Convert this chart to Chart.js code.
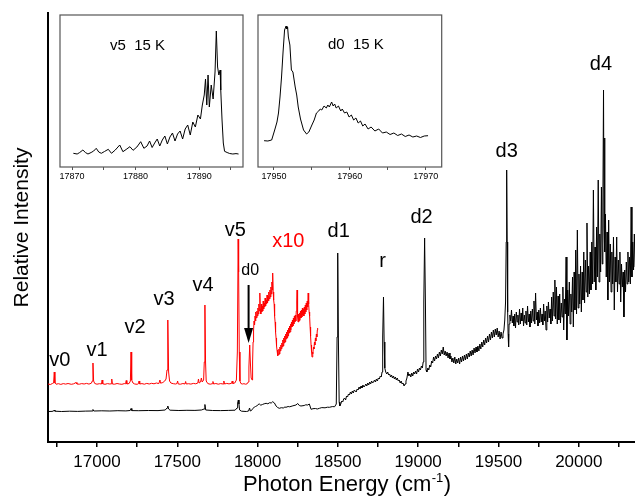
<!DOCTYPE html>
<html lang="en">
<head>
    <meta charset="UTF-8">
    <title>Photon Energy Spectrum</title>
    <style>
        body {
            margin: 0;
            background: #fff;
        }

        .wrap {
            position: relative;
            width: 635px;
            height: 502px;
        }

        .wrap canvas {
            position: absolute;
        }

        #mainChart { left: 0; top: 0; }
        #insetV5 { left: 50px; top: 5px; }
        #insetD0 { left: 248px; top: 5px; }
    </style>
</head>
<body>
    <div class="wrap">
        <canvas id="mainChart" width="635" height="502"></canvas>
        <canvas id="insetV5" width="205" height="185"></canvas>
        <canvas id="insetD0" width="205" height="185"></canvas>
    </div>

    <script src="https://cdn.jsdelivr.net/npm/chart.js"></script>
    <script>
        const fontFamily = '"Liberation Sans", Arial, sans-serif';
        Chart.defaults.font.family = fontFamily;
        Chart.defaults.color = '#000';

        // main spectrum, [photon energy (cm-1), relative intensity]
        const blackTrace = [
            [16695, 30.5], [16720, 30.6], [16730, 31], [16734, 32], [16738, 30.8], [16780, 30.5], [16830, 30.8],
            [16880, 30.6], [16930, 30.9], [16970, 31], [16975, 32.5], [16980, 31], [17030, 31.2], [17080, 31],
            [17130, 31.3], [17180, 31.1], [17207, 31.5], [17212, 33.5], [17217, 31.4], [17260, 31.3], [17320, 31.5],
            [17380, 31.4], [17425, 32], [17436, 34], [17441, 36], [17446, 33], [17455, 31.8], [17510, 31.5],
            [17560, 31.7], [17610, 31.6], [17650, 32], [17667, 33], [17672, 37.5], [17677, 32], [17720, 31.5],
            [17770, 31.4], [17820, 31.6], [17860, 31.8], [17872, 34], [17876, 39], [17880, 42], [17884, 38],
            [17888, 32], [17900, 30.8], [17930, 30.5], [17944, 31], [17950, 34], [17955, 31], [17962, 31.5],
            [17970, 33.5], [17979, 34.7], [17987, 35.5], [17995, 36], [18003, 37.5], [18011, 38], [18020, 36.8],
            [18030, 37.5], [18041, 38.2], [18053, 38.7], [18064, 38.2], [18075, 39.3], [18085, 39], [18094, 40.3],
            [18105, 39], [18115, 36], [18125, 34.5], [18135, 33.7], [18148, 34.3], [18160, 34], [18170, 35],
            [18177, 34.7], [18190, 35.5], [18200, 35.2], [18220, 36.2], [18239, 37], [18250, 38.5], [18260, 36.5],
            [18270, 36], [18290, 36.5], [18300, 37.2], [18312, 37], [18322, 38], [18333, 32.7], [18345, 33.3],
            [18360, 33.5], [18372, 33], [18385, 33.7], [18400, 34.4], [18420, 34.2], [18435, 34.8], [18447, 34.7],
            [18465, 35.4], [18480, 35.3], [18490, 38], [18495, 105], [18499, 189], [18503, 105], [18508, 40],
            [18512, 36], [18518, 38], [18524, 41], [18530, 40], [18536, 43], [18542, 44], [18548, 42], [18554, 46],
            [18560, 45], [18566, 48], [18572, 47], [18578, 50], [18584, 48], [18590, 51], [18596, 49], [18602, 52],
            [18608, 51], [18614, 50], [18620, 53], [18626, 52], [18632, 55], [18638, 53], [18644, 56], [18650, 54],
            [18656, 57], [18662, 55], [18668, 56], [18674, 58], [18680, 56], [18686, 59], [18692, 57], [18698, 60],
            [18704, 58], [18710, 61], [18716, 59], [18722, 60], [18728, 62], [18734, 60], [18740, 63], [18746, 61],
            [18752, 64], [18758, 63], [18764, 66], [18770, 65], [18775, 70], [18779, 105], [18784, 145], [18788, 100],
            [18792, 74], [18798, 70], [18804, 68], [18810, 70], [18816, 67], [18822, 68], [18828, 65], [18834, 67],
            [18840, 64], [18846, 66], [18852, 63], [18858, 65], [18864, 62], [18870, 64], [18876, 61], [18882, 62],
            [18888, 59], [18894, 61], [18900, 58], [18906, 59], [18912, 56], [18918, 58], [18924, 61], [18930, 64],
            [18936, 70], [18942, 66], [18948, 68], [18954, 65], [18960, 69], [18966, 66], [18972, 70], [18978, 68],
            [18984, 71], [18990, 68], [18996, 73], [19002, 70], [19008, 74], [19014, 72], [19020, 76], [19026, 74],
            [19031, 80], [19035, 140], [19040, 204], [19045, 140], [19049, 72], [19054, 70], [19060, 74], [19066, 72],
            [19072, 77], [19078, 75], [19084, 81], [19090, 79], [19096, 85], [19102, 81], [19108, 86], [19114, 83],
            [19120, 88], [19126, 84], [19132, 90], [19138, 86], [19144, 92], [19150, 88], [19156, 95], [19162, 87],
            [19168, 91], [19174, 86], [19180, 90], [19186, 84], [19192, 89], [19198, 83], [19204, 86], [19210, 80],
            [19216, 84], [19222, 79], [19228, 85], [19234, 78], [19240, 83], [19246, 79], [19252, 84], [19258, 78],
            [19264, 85], [19270, 80], [19276, 86], [19282, 81], [19288, 87], [19294, 82], [19300, 88], [19306, 83],
            [19312, 89], [19318, 85], [19324, 91], [19330, 86], [19336, 92], [19342, 87], [19348, 94], [19354, 89],
            [19360, 95], [19366, 90], [19372, 96], [19378, 91], [19384, 98], [19390, 93], [19396, 100], [19402, 95],
            [19408, 102], [19414, 97], [19420, 104], [19426, 99], [19432, 106], [19438, 100], [19444, 108],
            [19450, 102], [19456, 110], [19462, 104], [19468, 112], [19474, 105], [19480, 113], [19486, 107],
            [19492, 114], [19498, 105], [19504, 111], [19510, 103], [19516, 110], [19522, 104], [19528, 108],
            [19534, 112], [19539, 122], [19544, 140], [19548, 200], [19551, 272], [19554, 200], [19557, 130],
            [19560, 108], [19563, 95], [19566, 118], [19571, 127], [19576, 121], [19581, 132], [19586, 119],
            [19591, 126], [19596, 116], [19601, 128], [19606, 114], [19611, 130], [19616, 120], [19621, 127],
            [19626, 117], [19631, 133], [19636, 118], [19641, 129], [19646, 121], [19651, 134], [19656, 116],
            [19661, 127], [19666, 119], [19671, 131], [19676, 117], [19681, 136], [19686, 120], [19691, 128],
            [19696, 115], [19701, 131], [19706, 119], [19711, 133], [19716, 121], [19721, 141], [19726, 118],
            [19731, 149], [19736, 122], [19741, 130], [19746, 116], [19751, 132], [19756, 119], [19761, 134],
            [19766, 120], [19771, 128], [19776, 117], [19781, 138], [19786, 121], [19791, 131], [19796, 112],
            [19801, 136], [19806, 120], [19811, 140], [19816, 124], [19821, 133], [19826, 118], [19831, 145],
            [19836, 121], [19841, 150], [19846, 126], [19851, 162], [19856, 123], [19861, 155], [19866, 118],
            [19871, 146], [19876, 122], [19881, 148], [19886, 119], [19891, 139], [19896, 125], [19901, 155],
            [19906, 112], [19911, 143], [19916, 128], [19921, 185], [19926, 102], [19931, 152], [19936, 126],
            [19941, 160], [19946, 118], [19951, 148], [19956, 130], [19961, 165], [19966, 115], [19971, 170],
            [19976, 132], [19981, 192], [19986, 128], [19991, 212], [19996, 134], [20001, 168], [20006, 138],
            [20011, 176], [20016, 130], [20021, 170], [20026, 142], [20031, 190], [20036, 139], [20041, 182],
            [20046, 150], [20051, 219], [20056, 145], [20061, 176], [20066, 148], [20071, 190], [20076, 152],
            [20081, 200], [20086, 158], [20091, 252], [20096, 160], [20101, 195], [20106, 152], [20111, 215],
            [20116, 165], [20121, 262], [20126, 160], [20131, 208], [20136, 170], [20141, 255], [20146, 178],
            [20150, 240], [20154, 352], [20157, 215], [20160, 304], [20163, 190], [20166, 228], [20171, 165],
            [20176, 210], [20181, 142], [20186, 222], [20191, 160], [20196, 198], [20201, 150], [20206, 190],
            [20211, 158], [20216, 205], [20221, 132], [20226, 185], [20231, 160], [20236, 205], [20241, 150],
            [20246, 182], [20251, 158], [20256, 190], [20261, 140], [20266, 178], [20271, 155], [20276, 170],
            [20281, 125], [20286, 172], [20291, 150], [20296, 180], [20301, 158], [20306, 190], [20311, 160],
            [20316, 185], [20321, 158], [20326, 235], [20331, 165], [20336, 200], [20341, 172], [20346, 208],
            [20351, 175], [20355, 190]
        ];

        // same spectrum x10, shifted up
        const redTrace = [
            [16695, 58], [16710, 57.5], [16722, 58.5], [16730, 59], [16734, 70], [16738, 59], [16745, 57.8],
            [16760, 58.3], [16775, 57.6], [16790, 58.4], [16805, 57.9], [16820, 58.5], [16840, 57.7], [16855, 58.2],
            [16870, 59.5], [16875, 58], [16890, 57.8], [16905, 58.4], [16920, 58], [16935, 58.6], [16950, 57.9],
            [16965, 58.8], [16971, 61], [16975, 79], [16979, 61], [16986, 58.5], [17000, 57.8], [17015, 58.3],
            [17028, 58], [17032, 62], [17036, 58.2], [17050, 57.7], [17065, 58.4], [17080, 58], [17088, 58.2],
            [17092, 63], [17096, 58], [17110, 57.8], [17125, 58.5], [17140, 58], [17155, 57.7], [17170, 58.4],
            [17178, 58.2], [17182, 61.5], [17186, 58], [17200, 58.5], [17208, 61], [17212, 90], [17216, 62],
            [17224, 59], [17235, 58], [17250, 57.7], [17258, 58.3], [17262, 61], [17266, 58], [17280, 58.4],
            [17295, 57.8], [17310, 58.6], [17325, 58], [17340, 58.7], [17355, 58.2], [17370, 59], [17385, 58.4],
            [17392, 62], [17396, 58.8], [17410, 59.5], [17422, 61], [17430, 63], [17436, 72], [17441, 122],
            [17446, 70], [17452, 61], [17460, 59], [17475, 58.3], [17490, 58], [17498, 58.5], [17502, 61],
            [17506, 58], [17520, 57.8], [17535, 58.5], [17548, 58], [17552, 60.5], [17556, 58], [17570, 58.3],
            [17585, 57.9], [17600, 58.6], [17615, 58.2], [17628, 59], [17632, 63], [17636, 59], [17645, 60],
            [17650, 64], [17655, 60], [17664, 62], [17668, 80], [17672, 137], [17676, 80], [17680, 61], [17690, 58.4],
            [17705, 57.8], [17718, 58.3], [17722, 60.5], [17726, 58], [17740, 58.5], [17755, 57.8], [17770, 58.4],
            [17786, 58], [17790, 61], [17794, 58], [17808, 58.6], [17822, 58.1], [17838, 58.7], [17842, 61],
            [17846, 58.5], [17858, 59], [17868, 62], [17874, 90], [17879, 203], [17882, 170], [17886, 90],
            [17890, 61], [17896, 58.5], [17905, 58], [17915, 58.3], [17925, 57.8], [17935, 58.2], [17942, 60],
            [17946, 75], [17951, 97], [17955, 80], [17960, 64], [17966, 62], [17969, 80], [17972, 100], [17975, 112],
            [17978, 121], [17981, 117], [17984, 126], [17987, 121], [17990, 130], [17993, 124], [17996, 131],
            [17999, 126], [18002, 134], [18005, 128], [18008, 138], [18011, 131], [18014, 149], [18017, 133],
            [18020, 128], [18023, 138], [18026, 130], [18029, 136], [18032, 131], [18035, 141], [18038, 133],
            [18041, 139], [18044, 135], [18047, 144], [18050, 136], [18053, 142], [18056, 138], [18059, 147],
            [18062, 139], [18065, 146], [18068, 141], [18071, 150], [18074, 143], [18077, 152], [18080, 145],
            [18083, 155], [18086, 148], [18089, 160], [18092, 152], [18094, 169], [18097, 150], [18100, 142],
            [18103, 138], [18106, 126], [18109, 120], [18112, 110], [18115, 104], [18118, 96], [18121, 92],
            [18124, 86], [18127, 90], [18130, 87], [18133, 93], [18136, 88], [18139, 95], [18142, 91], [18145, 97],
            [18148, 93], [18151, 99], [18154, 95], [18157, 102], [18160, 96], [18163, 104], [18166, 99], [18169, 106],
            [18172, 100], [18175, 108], [18178, 103], [18181, 110], [18184, 104], [18187, 112], [18190, 106],
            [18193, 114], [18196, 109], [18199, 116], [18202, 110], [18205, 118], [18208, 112], [18211, 120],
            [18214, 115], [18217, 122], [18220, 116], [18223, 124], [18226, 118], [18229, 126], [18232, 120],
            [18235, 127], [18238, 121], [18241, 131], [18244, 140], [18246, 152], [18249, 125], [18252, 120],
            [18255, 128], [18258, 121], [18261, 129], [18264, 122], [18267, 131], [18270, 124], [18273, 132],
            [18276, 125], [18279, 134], [18282, 127], [18285, 133], [18288, 126], [18291, 135], [18294, 128],
            [18297, 137], [18300, 130], [18303, 139], [18306, 132], [18309, 141], [18312, 135], [18315, 149],
            [18318, 138], [18321, 130], [18324, 126], [18327, 115], [18330, 106], [18333, 97], [18336, 90],
            [18339, 85], [18342, 90], [18345, 88], [18348, 95], [18351, 93], [18354, 100], [18357, 97], [18360, 104],
            [18363, 101], [18366, 108], [18369, 105], [18372, 112], [18374, 114]
        ];

        // inset: v5 band at 15 K
        const v5Trace = [
            [17870.2, 13.7], [17870.8, 13], [17871.2, 14.5], [17871.7, 17], [17872.1, 14.5], [17872.5, 13],
            [17873.0, 14.5], [17873.4, 16], [17873.8, 18.7], [17874.2, 15], [17874.6, 13.7], [17875.1, 15.5],
            [17875.7, 17.7], [17876.2, 13.7], [17876.8, 17], [17877.5, 22], [17878.0, 15.3], [17878.5, 17.5],
            [17879.1, 20.3], [17879.6, 16.7], [17880.2, 20], [17880.8, 25.3], [17881.3, 18.7], [17881.8, 21],
            [17882.2, 26], [17882.6, 19.5], [17883.0, 24], [17883.4, 28], [17883.8, 21], [17884.2, 27],
            [17884.6, 31], [17885.0, 23], [17885.4, 30], [17885.8, 34], [17886.2, 26], [17886.6, 33], [17887.0, 36],
            [17887.4, 28], [17887.8, 38], [17888.2, 42], [17888.6, 32], [17889.0, 45], [17889.4, 40], [17889.8, 52],
            [17890.2, 48], [17890.5, 62], [17890.8, 72], [17891.0, 88], [17891.2, 62], [17891.4, 92], [17891.6, 60],
            [17891.9, 82], [17892.2, 68], [17892.5, 95], [17892.7, 136], [17892.9, 100], [17893.1, 92],
            [17893.3, 97], [17893.4, 77], [17893.6, 47], [17893.8, 24], [17894.0, 15.7], [17894.4, 14.5],
            [17894.8, 13.5], [17895.3, 13], [17895.8, 13.4], [17896.2, 13]
        ];

        // inset: d0 band at 15 K
        const d0Trace = [
            [17948.7, 26.3], [17949.2, 26], [17949.7, 27], [17950.1, 37], [17950.4, 45], [17950.6, 54],
            [17950.8, 70], [17951.0, 90], [17951.2, 115], [17951.4, 137], [17951.6, 141], [17951.7, 138],
            [17951.8, 140], [17951.9, 130], [17952.1, 122], [17952.3, 97], [17952.5, 95], [17952.8, 80],
            [17953.0, 72], [17953.2, 60], [17953.5, 48], [17953.9, 37], [17954.3, 33], [17954.6, 35], [17955.0, 42],
            [17955.3, 47], [17955.6, 54], [17955.9, 56], [17956.1, 58], [17956.3, 57], [17956.6, 61], [17956.9, 59],
            [17957.1, 62], [17957.3, 60], [17957.6, 65], [17957.8, 61], [17958.0, 63], [17958.2, 59], [17958.5, 61],
            [17958.8, 56], [17959.0, 58], [17959.3, 54], [17959.6, 55], [17959.9, 50], [17960.2, 52], [17960.5, 47],
            [17960.8, 49], [17961.1, 44], [17961.4, 46], [17961.7, 41], [17962.0, 43], [17962.4, 38], [17962.8, 40],
            [17963.3, 36], [17963.8, 38], [17964.3, 34], [17964.8, 35], [17965.3, 32.5], [17965.8, 34],
            [17966.3, 31.5], [17966.8, 33], [17967.3, 30.5], [17967.8, 32], [17968.3, 30], [17968.8, 31],
            [17969.3, 29.5], [17969.8, 31], [17970.3, 31.3]
        ];

        // peak names and where they sit (energy, intensity)
        const peakNames = ['v0', 'v1', 'v2', 'v3', 'v4', 'v5', 'd1', 'r', 'd2', 'd3', 'd4'];
        const peakNameE = [16769, 17000, 17237, 17418, 17661, 17861, 18505, 18778, 19021, 19551, 20138];
        const peakNameI = [82, 92, 115, 143, 157, 212, 211, 181, 225, 291, 378];
        const scaleNote = { text: 'x10', e: 18191, i: 201 };
        const d0Note = { text: 'd0', e: 17954, i: 171, arrowE: 17944, arrowFrom: 157, arrowTo: 99 };

        const toPoints = arr => arr.map(([x, y]) => ({ x, y }));

        const mainLabels = {
            id: 'mainLabels',
            afterDatasetsDraw(chart) {
                const { ctx, scales: { x, y } } = chart;
                ctx.save();
                ctx.textAlign = 'center';
                ctx.textBaseline = 'middle';
                ctx.fillStyle = '#000';
                ctx.font = '20px ' + fontFamily;
                peakNames.forEach((t, i) => {
                    ctx.fillText(t, x.getPixelForValue(peakNameE[i]), y.getPixelForValue(peakNameI[i]));
                });

                ctx.fillStyle = '#ff0000';
                ctx.fillText(scaleNote.text, x.getPixelForValue(scaleNote.e), y.getPixelForValue(scaleNote.i));

                // d0 with arrow
                ctx.fillStyle = '#000';
                ctx.font = '16px ' + fontFamily;
                ctx.fillText(d0Note.text, x.getPixelForValue(d0Note.e), y.getPixelForValue(d0Note.i));
                const ax = x.getPixelForValue(d0Note.arrowE);
                const y1 = y.getPixelForValue(d0Note.arrowFrom);
                const y2 = y.getPixelForValue(d0Note.arrowTo);
                ctx.strokeStyle = '#000';
                ctx.lineWidth = 2;
                ctx.beginPath();
                ctx.moveTo(ax, y1);
                ctx.lineTo(ax, y2 - 12);
                ctx.stroke();
                ctx.beginPath();
                ctx.moveTo(ax - 4.5, y2 - 15);
                ctx.lineTo(ax + 4.5, y2 - 15);
                ctx.lineTo(ax, y2);
                ctx.closePath();
                ctx.fill();
                ctx.restore();
            },
            afterDraw(chart) {
                // x title with a real superscript
                const { ctx, chartArea } = chart;
                const big = '22px ' + fontFamily;
                const small = '13px ' + fontFamily;
                const part1 = 'Photon Energy (cm', sup = '-1', part2 = ')';
                ctx.save();
                ctx.fillStyle = '#000';
                ctx.textBaseline = 'alphabetic';
                ctx.textAlign = 'left';
                ctx.font = big;
                const w1 = ctx.measureText(part1).width;
                const w3 = ctx.measureText(part2).width;
                ctx.font = small;
                const w2 = ctx.measureText(sup).width;
                let tx = (chartArea.left + chartArea.right) / 2 + 5 - (w1 + w2 + w3) / 2;
                const ty = chart.height - 11;
                ctx.font = big;
                ctx.fillText(part1, tx, ty);
                tx += w1 + 0.5;
                ctx.font = small;
                ctx.fillText(sup, tx, ty - 9);
                tx += w2 + 0.5;
                ctx.font = big;
                ctx.fillText(part2, tx, ty);
                ctx.restore();
            }
        };

        new Chart(document.getElementById('mainChart'), {
            type: 'line',
            data: {
                datasets: [
                    { data: toPoints(blackTrace), borderColor: '#000', borderWidth: 1 },
                    { data: toPoints(redTrace), borderColor: '#ff0000', borderWidth: 1 }
                ]
            },
            options: {
                responsive: false,
                animation: false,
                events: [],
                elements: { point: { radius: 0 }, line: { tension: 0 } },
                layout: { padding: { top: 13, left: 0, right: 0, bottom: 0 } },
                plugins: { legend: { display: false }, tooltip: { enabled: false } },
                scales: {
                    x: {
                        type: 'linear',
                        min: 16695,
                        max: 20350,
                        afterFit: s => { s.height = 60; },
                        border: { display: true, color: '#000', width: 2 },
                        grid: { display: true, drawOnChartArea: false, drawTicks: true, tickLength: 5, color: '#000', lineWidth: 1.5 },
                        ticks: {
                            stepSize: 250,
                            includeBounds: false,
                            autoSkip: false,
                            maxRotation: 0,
                            padding: 5,
                            font: { size: 17 },
                            color: '#000',
                            callback: v => (v % 500 === 0 ? String(v) : '')
                        }
                    },
                    y: {
                        type: 'linear',
                        min: 0,
                        max: 429,
                        afterFit: s => { s.width = 48; },
                        border: { display: true, color: '#000', width: 2 },
                        grid: { display: false },
                        ticks: { display: false },
                        title: {
                            display: true,
                            text: 'Relative Intensity',
                            font: { size: 21 },
                            color: '#000',
                            padding: { top: 10, bottom: 0 }
                        }
                    }
                }
            },
            plugins: [mainLabels]
        });

        function makeInset(canvasId, trace, xMin, xMax, padRight, note) {
            const insetPlugin = {
                id: 'insetBox',
                afterDraw(chart) {
                    const { ctx, chartArea: a, scales: { x, y } } = chart;
                    ctx.save();
                    ctx.strokeStyle = '#555';
                    ctx.lineWidth = 1.2;
                    ctx.strokeRect(a.left, a.top, a.right - a.left, a.bottom - a.top);
                    ctx.fillStyle = '#000';
                    ctx.font = '15px ' + fontFamily;
                    ctx.textAlign = 'center';
                    ctx.textBaseline = 'middle';
                    ctx.fillText(note.text, x.getPixelForValue(note.e), y.getPixelForValue(note.i));
                    ctx.restore();
                }
            };
            return new Chart(document.getElementById(canvasId), {
                type: 'line',
                data: { datasets: [{ data: toPoints(trace), borderColor: '#000', borderWidth: 1 }] },
                options: {
                    responsive: false,
                    animation: false,
                    events: [],
                    elements: { point: { radius: 0 }, line: { tension: 0 } },
                    layout: { padding: { top: 10, left: 10, right: padRight, bottom: 0 } },
                    plugins: { legend: { display: false }, tooltip: { enabled: false } },
                    scales: {
                        x: {
                            type: 'linear',
                            min: xMin,
                            max: xMax,
                            afterFit: s => { s.height = 23; },
                            border: { display: false },
                            grid: { display: true, drawOnChartArea: false, drawTicks: true, tickLength: 3, color: '#555', lineWidth: 1 },
                            ticks: {
                                stepSize: 5,
                                includeBounds: false,
                                autoSkip: false,
                                maxRotation: 0,
                                padding: 1,
                                font: { size: 9 },
                                color: '#000',
                                callback: v => (v % 10 === 0 ? String(v) : '')
                            }
                        },
                        y: { display: false, min: 0, max: 152 }
                    }
                },
                plugins: [insetPlugin]
            });
        }

        makeInset('insetV5', v5Trace, 17868.1, 17896.9, 12, { text: 'v5  15 K', e: 17880.3, i: 121.5 });
        makeInset('insetD0', d0Trace, 17947.9, 17972.1, 11.3, { text: 'd0  15 K', e: 17960.8, i: 122 });
    </script>
</body>
</html>
